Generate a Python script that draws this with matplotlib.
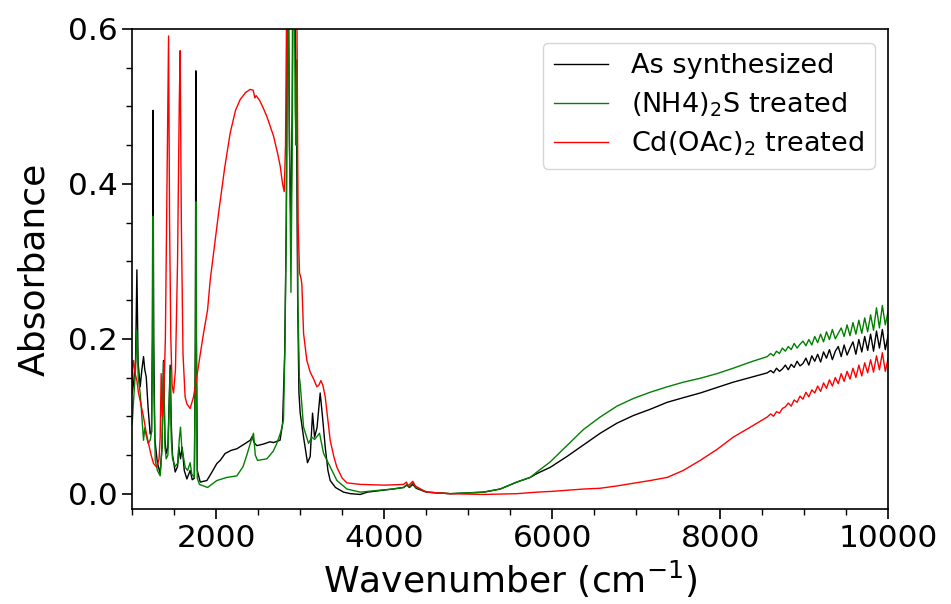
import numpy as np
import matplotlib
matplotlib.use("Agg")
import matplotlib.pyplot as plt
from matplotlib.ticker import MultipleLocator

# As synthesized (black)
wn_as = [1000, 1016, 1040, 1056, 1070, 1095, 1115, 1135, 1150, 1167, 1190, 1214, 1230, 1240, 1248, 1256,
         1270, 1300, 1333, 1355, 1373, 1390, 1405, 1425, 1440, 1452, 1465, 1480, 1512, 1540, 1555, 1575,
         1595, 1620, 1651, 1690, 1715, 1740, 1752, 1758, 1765, 1775, 1810, 1889, 1950, 2008, 2048, 2107,
         2180, 2246, 2320, 2405, 2430, 2450, 2484, 2560, 2640, 2682, 2760, 2790, 2815, 2835, 2852, 2872,
         2890, 2905, 2922, 2942, 2958, 2970, 2985, 3000, 3040, 3087, 3119, 3147, 3171, 3200, 3238, 3265,
         3298, 3330, 3357, 3420, 3516, 3600, 3714, 3800, 3950, 4100, 4230, 4270, 4300, 4341, 4380, 4500,
         4786, 5000, 5183, 5381, 5579, 5738, 5818, 5976, 6175, 6373, 6571, 6770, 6968, 7167, 7369, 7562,
         7762, 7960, 8155, 8360, 8560]
abs_as = [0.130, 0.142, 0.170, 0.289, 0.170, 0.138, 0.160, 0.177, 0.160, 0.151, 0.110, 0.077, 0.080, 0.200, 0.495, 0.200,
          0.070, 0.040, 0.026, 0.060, 0.172, 0.070, 0.052, 0.060, 0.120, 0.166, 0.090, 0.050, 0.028, 0.035, 0.060, 0.045,
          0.060, 0.030, 0.019, 0.030, 0.018, 0.020, 0.200, 0.546, 0.200, 0.030, 0.015, 0.017, 0.028, 0.039, 0.043, 0.052,
          0.056, 0.058, 0.063, 0.069, 0.074, 0.066, 0.062, 0.064, 0.067, 0.066, 0.069, 0.090, 0.180, 0.350, 0.800, 0.450,
          0.340, 0.500, 0.950, 0.600, 0.450, 0.250, 0.130, 0.104, 0.073, 0.040, 0.048, 0.104, 0.073, 0.085, 0.130, 0.100,
          0.060, 0.030, 0.017, 0.008, 0.002, 0.000, -0.001, 0.002, 0.004, 0.006, 0.008, 0.011, 0.008, 0.012, 0.007, 0.002,
          0.000, 0.001, 0.002, 0.006, 0.015, 0.021, 0.026, 0.034, 0.048, 0.063, 0.078, 0.091, 0.101, 0.109, 0.118, 0.124,
          0.130, 0.137, 0.144, 0.150, 0.156]

# (NH4)2S treated (green)
wn_nh4 = [1000, 1016, 1040, 1056, 1072, 1095, 1115, 1135, 1150, 1167, 1190, 1214, 1232, 1242, 1248, 1256,
          1274, 1300, 1333, 1355, 1373, 1390, 1405, 1425, 1440, 1452, 1465, 1480, 1512, 1545, 1560, 1575,
          1590, 1631, 1660, 1690, 1710, 1740, 1752, 1758, 1765, 1775, 1800, 1897, 2008, 2127, 2246, 2320,
          2365, 2420, 2444, 2465, 2492, 2603, 2680, 2722, 2770, 2801, 2820, 2838, 2852, 2870, 2890, 2905,
          2922, 2940, 2950, 2960, 2972, 2990, 3000, 3040, 3099, 3139, 3171, 3230, 3278, 3337, 3437, 3556,
          3714, 3900, 4100, 4230, 4270, 4300, 4341, 4380, 4508, 4786, 5183, 5381, 5579, 5738, 5818, 5976,
          6175, 6373, 6571, 6770, 6968, 7167, 7369, 7562, 7762, 7960, 8155, 8360, 8560]
abs_nh4 = [0.090, 0.120, 0.160, 0.211, 0.150, 0.130, 0.100, 0.069, 0.085, 0.075, 0.065, 0.069, 0.080, 0.200, 0.358, 0.150,
           0.043, 0.030, 0.023, 0.060, 0.170, 0.060, 0.045, 0.050, 0.110, 0.160, 0.070, 0.045, 0.035, 0.040, 0.070, 0.086,
           0.060, 0.034, 0.030, 0.040, 0.025, 0.021, 0.180, 0.377, 0.150, 0.020, 0.012, 0.008, 0.017, 0.021, 0.023, 0.035,
           0.050, 0.070, 0.078, 0.050, 0.043, 0.045, 0.055, 0.065, 0.080, 0.095, 0.200, 0.400, 0.700, 0.480, 0.260, 0.450,
           0.800, 0.500, 0.450, 0.560, 0.250, 0.150, 0.142, 0.086, 0.065, 0.073, 0.070, 0.078, 0.052, 0.039, 0.017, 0.006,
           0.002, 0.004, 0.006, 0.008, 0.012, 0.009, 0.014, 0.008, 0.002, 0.000, 0.002, 0.006, 0.015, 0.021, 0.028, 0.041,
           0.062, 0.083, 0.099, 0.113, 0.123, 0.131, 0.138, 0.144, 0.149, 0.155, 0.162, 0.170, 0.177]

# Cd(OAc)2 treated (red)
wn_cd = [1000, 1008, 1016, 1035, 1056, 1075, 1095, 1135, 1165, 1194, 1225, 1254, 1294, 1320, 1333, 1345,
         1358, 1375, 1395, 1415, 1433, 1445, 1460, 1475, 1492, 1515, 1540, 1560, 1571, 1585, 1605, 1630,
         1651, 1690, 1730, 1770, 1810, 1849, 1897, 1929, 1980, 2028, 2100, 2167, 2230, 2286, 2350, 2405,
         2440, 2460, 2475, 2516, 2560, 2603, 2682, 2730, 2762, 2790, 2810, 2825, 2840, 2855, 2880, 2900,
         2922, 2945, 2962, 2975, 2992, 3010, 3020, 3040, 3079, 3119, 3160, 3198, 3222, 3246, 3270, 3298,
         3330, 3357, 3400, 3437, 3500, 3556, 3714, 4000, 4230, 4265, 4285, 4341, 4370, 4450, 4508, 4786,
         5183, 5579, 5818, 6000, 6373, 6571, 6770, 7167, 7369, 7560, 7762, 7960, 8155, 8360, 8560]
abs_cd = [0.130, 0.170, 0.172, 0.155, 0.146, 0.130, 0.120, 0.099, 0.080, 0.065, 0.050, 0.039, 0.034, 0.045, 0.073, 0.155,
          0.100, 0.120, 0.200, 0.400, 0.591, 0.350, 0.200, 0.140, 0.130, 0.160, 0.300, 0.500, 0.572, 0.350, 0.180, 0.125,
          0.116, 0.110, 0.125, 0.151, 0.180, 0.207, 0.237, 0.276, 0.320, 0.362, 0.420, 0.466, 0.495, 0.509, 0.518, 0.522,
          0.521, 0.511, 0.514, 0.508, 0.498, 0.487, 0.462, 0.440, 0.423, 0.400, 0.390, 0.450, 0.650, 0.900, 0.700, 0.680,
          0.950, 0.800, 0.600, 0.350, 0.285, 0.278, 0.270, 0.207, 0.172, 0.157, 0.148, 0.138, 0.140, 0.146, 0.140, 0.125,
          0.095, 0.069, 0.048, 0.034, 0.020, 0.014, 0.012, 0.011, 0.012, 0.015, 0.010, 0.016, 0.010, 0.005, 0.002, 0.000,
          -0.001, 0.000, 0.002, 0.003, 0.006, 0.007, 0.010, 0.017, 0.021, 0.030, 0.043, 0.057, 0.073, 0.086, 0.099]

# noisy high-wavenumber end
wn_tail = [8600, 8635, 8670, 8705, 8740, 8775, 8810, 8845, 8880, 8915, 8950, 8985, 9020, 9055, 9090, 9125, 9160,
           9195, 9230, 9265, 9300, 9335, 9370, 9405, 9440, 9475, 9510, 9545, 9580, 9615, 9650, 9685, 9720, 9755,
           9790, 9825, 9860, 9895, 9930, 9965, 10000]
tail_as = [0.159, 0.156, 0.162, 0.158, 0.161, 0.166, 0.160, 0.167, 0.163, 0.171, 0.165, 0.168, 0.175, 0.166, 0.178,
           0.171, 0.180, 0.170, 0.183, 0.175, 0.186, 0.173, 0.184, 0.190, 0.177, 0.192, 0.179, 0.188, 0.196, 0.180,
           0.199, 0.183, 0.203, 0.185, 0.206, 0.184, 0.210, 0.188, 0.212, 0.186, 0.205]
tail_nh4 = [0.181, 0.178, 0.184, 0.181, 0.188, 0.184, 0.190, 0.186, 0.194, 0.188, 0.193, 0.197, 0.191, 0.199, 0.192,
            0.203, 0.195, 0.206, 0.196, 0.209, 0.199, 0.212, 0.200, 0.207, 0.214, 0.203, 0.218, 0.204, 0.221, 0.206,
            0.224, 0.207, 0.227, 0.209, 0.231, 0.211, 0.240, 0.214, 0.243, 0.218, 0.236]
tail_cd = [0.103, 0.100, 0.106, 0.104, 0.110, 0.112, 0.117, 0.113, 0.121, 0.118, 0.126, 0.122, 0.131, 0.125, 0.134,
           0.130, 0.139, 0.132, 0.143, 0.136, 0.147, 0.139, 0.150, 0.142, 0.155, 0.145, 0.158, 0.148, 0.162, 0.150,
           0.166, 0.152, 0.169, 0.156, 0.173, 0.157, 0.178, 0.160, 0.182, 0.158, 0.175]

labels = ['As synthesized', '(NH4)$_2$S treated', 'Cd(OAc)$_2$ treated']

fig = plt.figure(figsize=(9.51, 6.04), dpi=100)
ax = fig.add_axes([0.139, 0.157, 0.795, 0.795])

ax.plot(wn_as + wn_tail, abs_as + tail_as, color='k', lw=1.0, label=labels[0])
ax.plot(wn_nh4 + wn_tail, abs_nh4 + tail_nh4, color='g', lw=1.0, label=labels[1])
ax.plot(wn_cd + wn_tail, abs_cd + tail_cd, color='r', lw=1.0, label=labels[2])

ax.set_xlim(1000, 10000)
ax.set_ylim(-0.02, 0.6)
ax.xaxis.set_major_locator(MultipleLocator(2000))
ax.xaxis.set_minor_locator(MultipleLocator(500))
ax.yaxis.set_major_locator(MultipleLocator(0.2))
ax.yaxis.set_minor_locator(MultipleLocator(0.05))
ax.tick_params(which='major', labelsize=22.5, length=7, width=1.2)
ax.tick_params(which='minor', length=4, width=1.0)
for s in ax.spines.values():
    s.set_linewidth(1.2)

ax.set_xlabel('Wavenumber (cm$^{-1}$)', fontsize=26)
ax.set_ylabel('Absorbance', fontsize=26, labelpad=12)
ax.legend(loc='upper right', fontsize=19.5, handlelength=2.0, handletextpad=0.85,
          labelspacing=0.4)

fig.savefig('out.png', dpi=100)
